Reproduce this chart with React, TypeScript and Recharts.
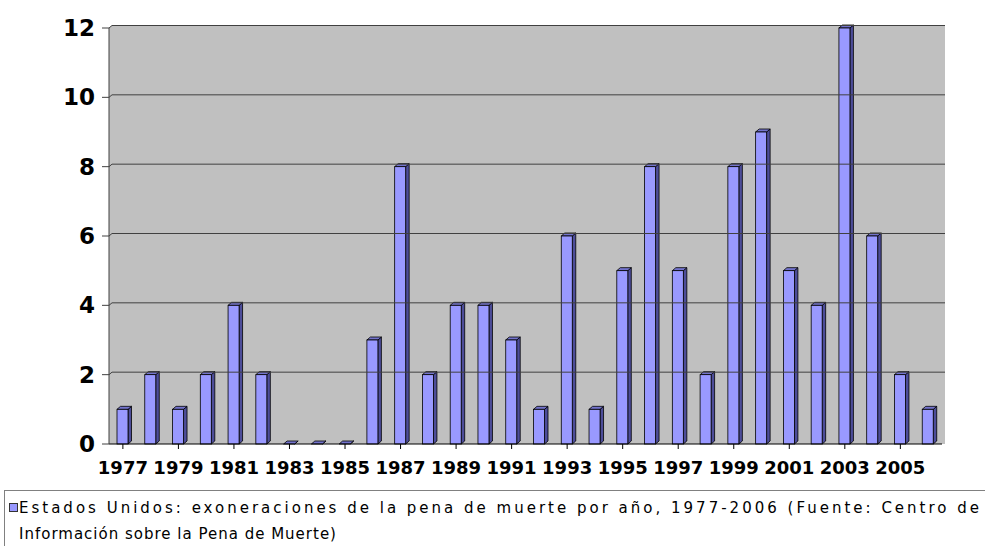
import React from 'react';
import { BarChart, Bar, XAxis, YAxis, ReferenceArea, ReferenceLine } from 'recharts';

const years = ['1977','1978','1979','1980','1981','1982','1983','1984','1985','1986','1987','1988','1989','1990','1991','1992','1993','1994','1995','1996','1997','1998','1999','2000','2001','2002','2003','2004','2005','2006'];
const exonerations = [1,2,1,2,4,2,0,0,0,3,8,2,4,4,3,1,6,1,5,8,5,2,8,9,5,4,12,6,2,1];
const yTicks = [0,2,4,6,8,10,12];
const gridValues = [2,4,6,8,10,12];
const seriesName = 'Estados Unidos: exoneraciones de la pena de muerte por año, 1977-2006 (Fuente: Centro de';
const seriesName2 = 'Información sobre la Pena de Muerte)';

const data = years.map((year, i) => ({ year, value: exonerations[i] }));

const DX = 3.5;
const DY = 3;

const Bar3D = (props: any) => {
  const { x, y, width, height } = props;
  if (x == null || y == null) return null;
  const h = Math.max(0, height || 0);
  return (
    <g>
      <path
        d={`M${x + width},${y} L${x + width + DX},${y - DY} L${x + width + DX},${y + h - DY} L${x + width},${y + h} Z`}
        fill="#4d4d99" stroke="#000" strokeWidth={0.8} strokeLinejoin="round"
      />
      <path
        d={`M${x},${y} L${x + DX},${y - DY} L${x + width + DX},${y - DY} L${x + width},${y} Z`}
        fill="#7373cc" stroke="#000" strokeWidth={0.8} strokeLinejoin="round"
      />
      {h > 0 && <rect x={x} y={y} width={width} height={h} fill="#9999ff" stroke="#000" strokeWidth={0.8} />}
    </g>
  );
};

const Wall = (props: any) => {
  const { x, y, width, height } = props;
  return (
    <path
      d={`M${x},${y + height} L${x},${y} L${x + 3},${y - 2.5} L${x + width + 3},${y - 2.5} L${x + width + 3},${y + height} Z`}
      fill="#c0c0c0"
    />
  );
};

const GridLine = (props: any) => {
  const { x1, y1, x2, y2 } = props;
  const xa = Math.min(x1, x2);
  const xb = Math.max(x1, x2);
  const yy = y1 ?? y2;
  return (
    <g>
      <line x1={xa} y1={yy} x2={xa + 3} y2={yy - 2.5} stroke="#404040" strokeWidth={1} />
      <line x1={xa + 3} y1={yy - 2.5} x2={xb + 3} y2={yy - 2.5} stroke="#404040" strokeWidth={1} />
    </g>
  );
};

const LegendBox = () => (
  <div style={{ position: 'absolute', left: 4, top: 490, width: 1000, height: 70, border: '1px solid #808080', boxSizing: 'border-box', fontFamily: '"DejaVu Sans", sans-serif', fontSize: 15, color: '#000' }}>
    <div style={{ position: 'absolute', left: 4, top: 12, width: 7, height: 7, background: '#9999ff', border: '1px solid #333' }} />
    <div style={{ position: 'absolute', left: 14, top: 4, lineHeight: '26px', whiteSpace: 'nowrap' }}>
      <div style={{ letterSpacing: '3px' }}>{seriesName}</div>
      <div style={{ letterSpacing: '1px' }}>{seriesName2}</div>
    </div>
  </div>
);

export default function App() {
  return (
    <div style={{ position: 'absolute', left: 0, top: 0, width: 985, height: 546, overflow: 'hidden', background: '#fff', fontFamily: '"DejaVu Sans", sans-serif' }}>
      <BarChart width={985} height={546} data={data} margin={{ top: 28, right: 43, bottom: 72, left: 0 }} barCategoryGap={0}>
        <ReferenceArea y1={0} y2={12} shape={<Wall />} ifOverflow="visible" />
        {gridValues.map((v) => (
          <ReferenceLine key={v} y={v} shape={(p: any) => <GridLine {...p} />} ifOverflow="visible" />
        ))}
        <XAxis
          dataKey="year"
          interval={1}
          tickSize={5}
          tickMargin={12}
          height={30}
          axisLine={{ stroke: '#000', strokeWidth: 1 }}
          tickLine={{ stroke: '#000', strokeWidth: 1 }}
          tick={{ fill: '#000', fontSize: 18, fontWeight: 'bold', fontFamily: '"DejaVu Sans", sans-serif' }}
        />
        <YAxis
          domain={[0, 12]}
          ticks={yTicks}
          width={109}
          tickSize={7}
          tickMargin={7}
          axisLine={{ stroke: '#404040', strokeWidth: 1 }}
          tickLine={{ stroke: '#404040', strokeWidth: 1 }}
          tick={{ fill: '#000', fontSize: 23, fontWeight: 'bold', fontFamily: '"DejaVu Sans", sans-serif' }}
        />
        <Bar dataKey="value" name={seriesName} barSize={11} shape={<Bar3D />} isAnimationActive={false} />
      </BarChart>
      <LegendBox />
    </div>
  );
}
